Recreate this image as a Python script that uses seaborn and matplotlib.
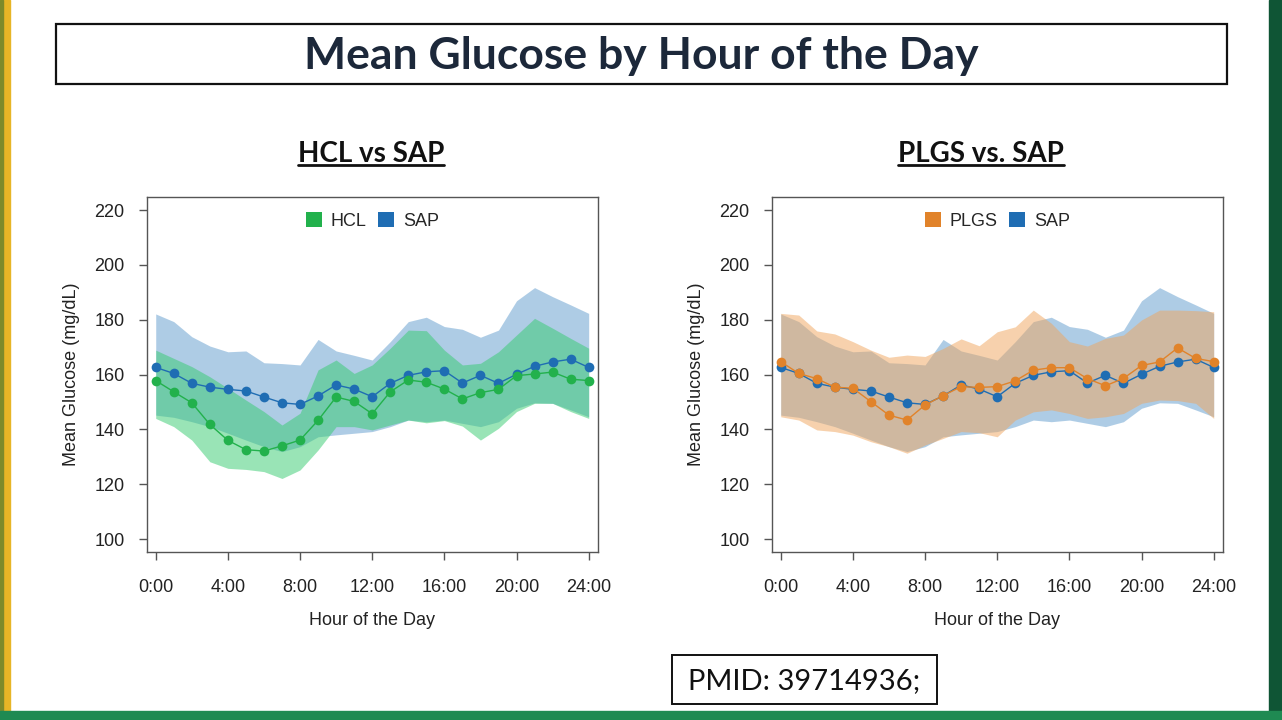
import numpy as np
import pandas as pd
import seaborn as sns
import matplotlib
matplotlib.use("Agg")
import matplotlib.pyplot as plt
from matplotlib.patches import Patch, Rectangle

# ---------------- data ----------------
hours = list(range(25))
tick_hours = [0, 4, 8, 12, 16, 20, 24]
tick_labels = ["0:00", "4:00", "8:00", "12:00", "16:00", "20:00", "24:00"]
y_ticks = [100, 120, 140, 160, 180, 200, 220]

sap_mean = [162.6, 160.4, 156.8, 155.4, 154.6, 154.0, 151.8, 149.7, 149.1, 152.2, 156.2, 154.7, 151.9,
            156.8, 159.7, 161.0, 161.4, 156.9, 159.7, 156.8, 160.1, 163.0, 164.6, 165.6, 162.6]
sap_upper = [182.1, 179.3, 173.8, 170.4, 168.3, 168.6, 164.3, 164.0, 163.5, 172.8, 168.6, 167.0, 165.3,
             172.0, 179.3, 180.9, 177.5, 176.5, 173.6, 176.2, 186.9, 191.7, 188.4, 185.4, 182.3]
sap_lower = [145.2, 144.4, 142.8, 141.0, 138.6, 136.1, 133.7, 131.9, 133.7, 137.3, 138.0, 138.6, 139.2,
             141.0, 143.4, 142.8, 143.4, 142.2, 141.0, 142.8, 147.7, 149.7, 149.5, 147.1, 144.6]

hcl_mean = [157.8, 153.7, 149.7, 141.8, 136.0, 132.6, 132.1, 134.0, 136.1, 143.3, 151.8, 150.2, 145.7,
            153.7, 158.0, 157.2, 154.7, 151.1, 153.4, 154.6, 159.6, 160.2, 160.9, 158.3, 157.8]
hcl_upper = [168.9, 165.9, 162.9, 159.2, 155.0, 150.7, 146.5, 141.6, 145.9, 161.7, 165.3, 160.4, 163.5,
             169.6, 176.2, 176.0, 168.9, 163.5, 164.1, 168.3, 174.4, 180.5, 176.9, 173.2, 169.6]
hcl_lower = [144.0, 141.0, 136.1, 128.2, 125.8, 125.4, 124.6, 122.1, 125.2, 132.5, 141.0, 141.0, 139.8,
             141.6, 143.4, 142.4, 143.2, 141.2, 136.1, 140.4, 146.5, 149.5, 149.5, 146.5, 144.0]

plgs_mean = [164.7, 160.4, 158.5, 155.4, 155.0, 150.1, 145.2, 143.4, 148.9, 152.3, 155.6, 155.3, 155.6,
             157.7, 161.6, 162.5, 162.5, 158.5, 155.9, 158.6, 163.3, 164.6, 169.7, 165.9, 164.7]
plgs_upper = [182.3, 181.7, 175.9, 174.8, 172.0, 168.9, 166.3, 167.1, 166.6, 169.5, 173.0, 170.5, 175.6,
              177.4, 183.5, 178.7, 172.0, 170.4, 173.2, 174.4, 179.9, 183.5, 183.5, 183.3, 182.9]
plgs_lower = [144.6, 143.4, 139.8, 139.2, 137.9, 135.5, 133.7, 131.3, 134.3, 136.7, 139.2, 138.8, 137.3,
              143.4, 146.4, 147.1, 145.8, 144.0, 144.6, 145.8, 149.5, 150.7, 150.5, 149.5, 144.0]

# ---------------- style ----------------
sns.set_theme(style="white")
plt.rcParams["font.family"] = ["Liberation Sans", "DejaVu Sans"]

C_SAP = "#1f6db3"
C_HCL = "#22b14c"
C_PLGS = "#e1832a"
F_SAP = "#5f9bcd"
F_HCL = "#34cb6e"
F_PLGS = "#f0a55c"

fig = plt.figure(figsize=(12.82, 7.2), dpi=100)
fig.patch.set_facecolor("white")

W, H = 1282, 720


def fx(px):
    return px / W


def fy(py):
    return 1 - py / H


# decorative slide strips
fig.patches.append(Rectangle((0, 0), fx(10), 1, transform=fig.transFigure, color="#e7b526", zorder=-5))
fig.patches.append(Rectangle((0, 0), fx(3), 1, transform=fig.transFigure, color="#7d8a2a", zorder=-5))
fig.patches.append(Rectangle((fx(1269), 0), fx(13), 1, transform=fig.transFigure, color="#0f5535", zorder=-5))
fig.patches.append(Rectangle((0, 0), 1, fy(711), transform=fig.transFigure, color="#1f8a52", zorder=-5))

# title box
fig.patches.append(Rectangle((fx(56), fy(83.5)), fx(1226.5 - 56), fy(24.5) - fy(83.5),
                             transform=fig.transFigure, fill=False, edgecolor="#111111", lw=1.6, zorder=1))
fig.text(fx(641), fy(56), "Mean Glucose by Hour of the Day", ha="center", va="center",
         fontsize=32, fontweight="bold", family=["Lato", "DejaVu Sans"], color="#1c283a")

# PMID box
fig.patches.append(Rectangle((fx(671.5), fy(704)), fx(937 - 671.5), fy(655) - fy(704),
                             transform=fig.transFigure, fill=False, edgecolor="#111111", lw=1.4, zorder=1))
fig.text(fx(804), fy(681), "PMID: 39714936;", ha="center", va="center",
         fontsize=21, family=["Lato", "DejaVu Sans"], color="#111111")


def subtitle(cx, text):
    t = fig.text(fx(cx), fy(162), text, ha="center", va="baseline", fontsize=20,
                 fontweight="bold", family=["Lato", "DejaVu Sans"], color="#111111")
    fig.canvas.draw()
    bb = t.get_window_extent()
    fig.add_artist(plt.Line2D([bb.x0 / W, bb.x1 / W], [fy(165), fy(165)],
                              transform=fig.transFigure, color="#111111", lw=2))


subtitle(371, "HCL vs SAP")
subtitle(981, "PLGS vs. SAP")


def make_axes(left_px, groups, legend_names, legend_colors):
    ax = fig.add_axes([fx(left_px), fy(551.7), fx(451), fy(196.7) - fy(551.7)])
    ax.set_facecolor("white")
    for name, mean, lo, hi, lcol, fcol in groups:
        ax.fill_between(hours, lo, hi, color=fcol, alpha=0.5, linewidth=0, zorder=1)
    for name, mean, lo, hi, lcol, fcol in groups:
        df = pd.DataFrame({"hour": hours, "glucose": mean})
        sns.lineplot(data=df, x="hour", y="glucose", ax=ax, color=lcol, marker="o",
                     markersize=7, markeredgewidth=0, linewidth=1.0, zorder=3)
    ax.set_xlim(-0.5, 24.5)
    ax.set_ylim(95.4, 224.85)
    ax.set_xticks(tick_hours)
    ax.set_xticklabels(tick_labels)
    ax.set_yticks(y_ticks)
    for s in ax.spines.values():
        s.set_visible(True)
        s.set_color("#555555")
        s.set_linewidth(1.0)
    ax.tick_params(axis="both", which="major", direction="out", length=6, width=1.0,
                   color="#555555", labelsize=13, labelcolor="#222222", bottom=True, left=True)
    ax.tick_params(axis="x", pad=14)
    ax.tick_params(axis="y", pad=10)
    ax.set_xlabel("Hour of the Day", fontsize=13, color="#222222", labelpad=11)
    ax.set_ylabel("Mean Glucose (mg/dL)", fontsize=13, color="#222222", labelpad=10)
    handles = [Patch(facecolor=c, edgecolor="none") for c in legend_colors]
    ax.legend(handles, legend_names, loc="upper center", bbox_to_anchor=(0.5, 1.003), ncol=2,
              frameon=False, fontsize=13, handlelength=0.9, handleheight=0.9,
              handletextpad=0.5, columnspacing=0.6)
    ax.grid(False)
    return ax


make_axes(146.7,
          [("SAP", sap_mean, sap_lower, sap_upper, C_SAP, F_SAP),
           ("HCL", hcl_mean, hcl_lower, hcl_upper, C_HCL, F_HCL)],
          ["HCL", "SAP"], [C_HCL, C_SAP])

make_axes(771.7,
          [("SAP", sap_mean, sap_lower, sap_upper, C_SAP, F_SAP),
           ("PLGS", plgs_mean, plgs_lower, plgs_upper, C_PLGS, F_PLGS)],
          ["PLGS", "SAP"], [C_PLGS, C_SAP])

fig.savefig("out.png", dpi=100, facecolor=fig.get_facecolor())
